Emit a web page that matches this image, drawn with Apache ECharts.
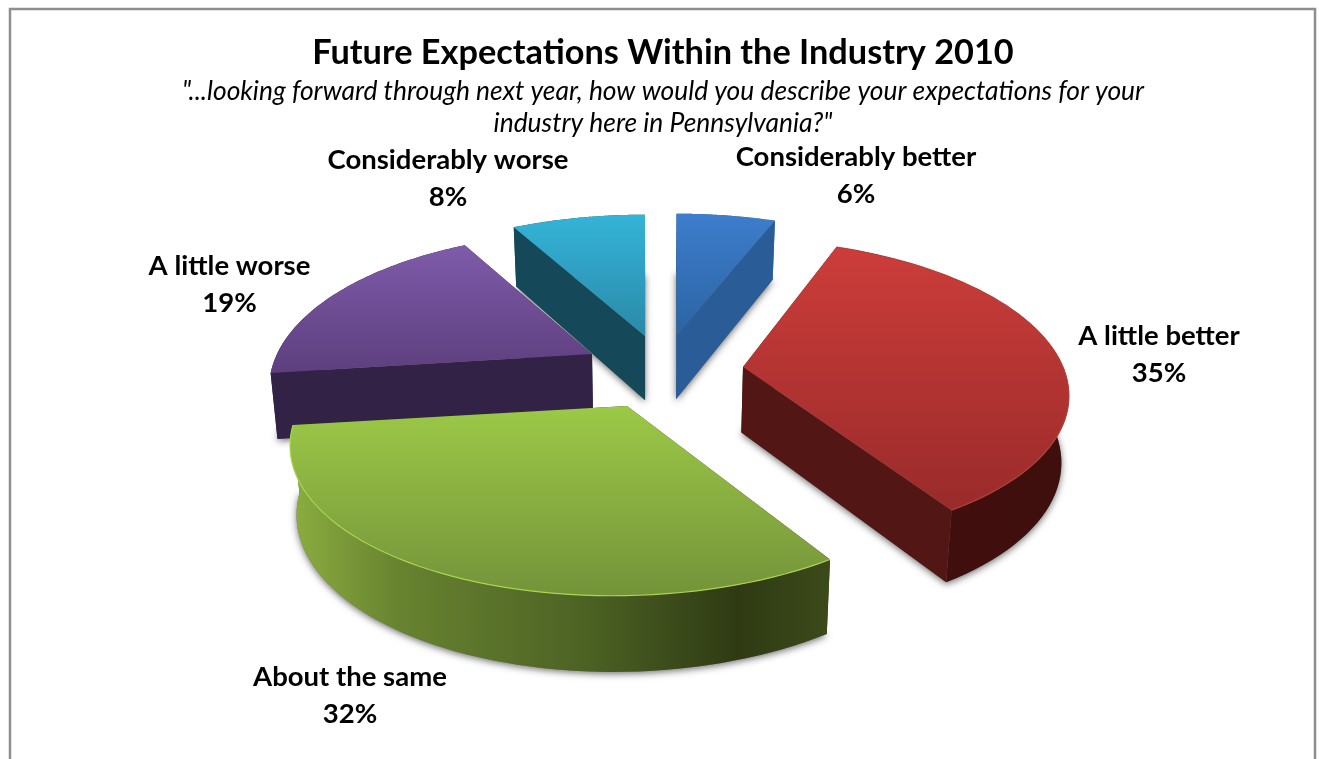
<!DOCTYPE html>
<html>
<head>
<meta charset="utf-8">
<style>html,body{margin:0;padding:0;background:#fff}#chart{width:1319px;height:759px}</style>
<script src="https://cdn.jsdelivr.net/npm/echarts@6/dist/echarts.min.js"></script>
</head>
<body>
<div id="chart"></div>
<script>
// Survey answers, clockwise from twelve o'clock.
const categories = ['Considerably better', 'A little better', 'About the same', 'A little worse', 'Considerably worse'];
const shares = [6, 35, 32, 19, 8];
const titleText = 'Future Expectations Within the Industry 2010';
const subtitleText = '"...looking forward through next year, how would you describe your expectations for your\nindustry here in Pennsylvania?"';

// Projection of each exploded wedge: tip position, disc radii, perspective and skew.
const wedgeViews = [
  { tip: [676.5, 335], a: 322, b: 148, p: 0.22, skew: 0, order: 1 },
  { tip: [743, 367], a: 320, b: 147.5, p: 0.154, skew: 0.08, order: 3 },
  { tip: [627, 406], a: 326, b: 148, p: 0.22, skew: -0.075, order: 4 },
  { tip: [592, 354], a: 315, b: 148, p: 0.22, skew: 0, order: 2 },
  { tip: [645, 336], a: 325, b: 148, p: 0.22, skew: 0, order: 0 }
];

// Surface colours of each wedge.
const wedgeColors = [
  { top: ['#3d7dcc', '#2b64a3'], cut: '#2a5d98', wall: [[0, '#2a5d98'], [1, '#2a5d98']] },
  { top: ['#cc3d3a', '#992b2a'], cut: '#521614', wall: [[0, '#420f0d'], [1, '#3f0f0d']], rim: '#b5403a' },
  { top: ['#9cc947', '#74933a'], cut: '#2f3a12', wall: [[0, '#8cae40'], [0.2, '#688330'], [0.55, '#4c6224'], [0.83, '#2f3a13'], [1, '#3c4a1a']], rim: '#a9d551' },
  { top: ['#7f5baa', '#5d3f7e'], cut: '#322245', wall: [[0, '#322245'], [1, '#322245']] },
  { top: ['#34b4d8', '#2b89a8'], cut: '#15495a', wall: [[0, '#15495a'], [1, '#15495a']] }
];

// Anchor of each two-line label (horizontal centre, first line centre).
const labelAnchors = [[856, 157], [1159, 336], [350, 677], [229.5, 266], [448, 160]];
const labelLineHeight = 37;
const arcSteps = 60;

// Every wedge spans [start, end] in radians, clockwise from the top.
const total = shares.reduce((s, v) => s + v, 0);
const spans = [];
shares.reduce((acc, v) => {
  spans.push([acc / total * 2 * Math.PI, (acc + v) / total * 2 * Math.PI]);
  return acc + v;
}, 0);

function projectRim(view, angle) {
  const u = Math.sin(angle), v = Math.cos(angle);
  const den = 1 + view.p * v;
  const dy = -view.b * v / den;
  return [view.tip[0] + view.a * u / den + view.skew * dy, view.tip[1] + dy];
}

// Lower face of the disc: pushed down more towards the viewer, drawn in slightly towards the middle.
function dropPoint(pt) {
  return [pt[0] - (pt[0] - 650) * 0.018, pt[1] + 59 + (pt[1] - 223) * 0.046];
}

function vertical(c) {
  return { type: 'linear', x: 0, y: 0, x2: 0, y2: 1, colorStops: [{ offset: 0, color: c[0] }, { offset: 1, color: c[1] }] };
}

function horizontal(stops) {
  return { type: 'linear', x: 0, y: 0, x2: 1, y2: 0, colorStops: stops.map(s => ({ offset: s[0], color: s[1] })) };
}

function renderWedge(params) {
  const i = params.dataIndex;
  const view = wedgeViews[i], col = wedgeColors[i];
  const [from, to] = spans[i];
  const rim = [];
  for (let k = 0; k <= arcSteps; k++) rim.push(projectRim(view, from + (to - from) * k / arcSteps));
  const lowerRim = rim.map(dropPoint);
  const tip = view.tip, lowerTip = dropPoint(tip);
  const base = view.order * 10;
  const poly = (points, fill, z, extra) => ({
    type: 'polygon', z2: base + z, silent: true, shape: { points },
    style: Object.assign({ fill }, extra || {})
  });
  const children = [
    // soft shadow cast by the lower face
    poly([lowerTip].concat(lowerRim), '#777', 0, { shadowBlur: 7, shadowColor: 'rgba(0,0,0,0.55)', shadowOffsetX: 0, shadowOffsetY: 2 }),
    poly([tip, rim[0], lowerRim[0], lowerTip], col.cut, 1),
    poly([tip, rim[arcSteps], lowerRim[arcSteps], lowerTip], col.cut, 1),
    poly(rim.concat(lowerRim.slice().reverse()), horizontal(col.wall), 2),
    poly([tip].concat(rim), vertical(col.top), 3)
  ];
  if (col.rim) {
    children.push({
      type: 'polyline', z2: base + 4, silent: true, shape: { points: rim },
      style: { fill: null, stroke: col.rim, lineWidth: 1.2 }
    });
  }
  children.push({
    type: 'text', z2: 100, silent: true,
    style: {
      x: labelAnchors[i][0], y: labelAnchors[i][1] - labelLineHeight / 2,
      text: categories[i] + '\n' + shares[i] + '%',
      align: 'center', verticalAlign: 'top', lineHeight: labelLineHeight,
      font: 'bold 27.5px Lato', fill: '#000'
    }
  });
  return { type: 'group', children };
}

const chart = echarts.init(document.getElementById('chart'), null, { renderer: 'canvas' });
chart.setOption({
  animation: false,
  backgroundColor: '#fff',
  title: [
    { text: titleText, left: 658, top: 31, textAlign: 'center', textStyle: { fontFamily: 'Lato', fontWeight: 'bold', fontSize: 34.3, color: '#000' } },
    { text: subtitleText, left: 658, top: 70, textAlign: 'center',
      textStyle: { fontFamily: 'Lato', fontStyle: 'italic', fontWeight: 'normal', fontSize: 26.4, lineHeight: 32, color: '#000' } }
  ],
  graphic: [{
    type: 'rect', silent: true, z: -1,
    shape: { x: 10, y: 9, width: 1305, height: 800 },
    style: { fill: '#fff', stroke: '#8e8e8e', lineWidth: 2.5 }
  }],
  series: [{
    type: 'custom',
    coordinateSystem: 'none',
    silent: true,
    clip: false,
    renderItem: renderWedge,
    data: shares
  }]
});
</script>
</body>
</html>
